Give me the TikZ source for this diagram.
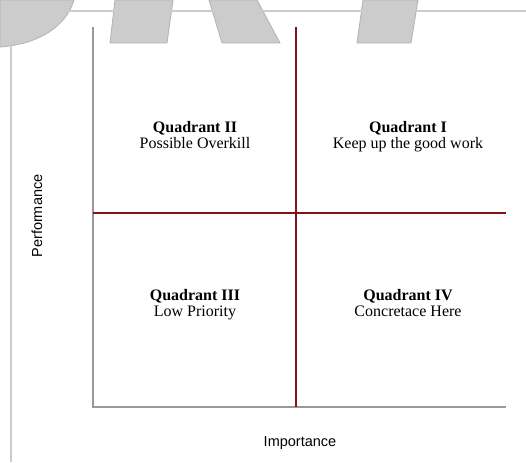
\documentclass[tikz,border=0pt]{standalone}
\usepackage{fontspec}
\setmainfont{Liberation Serif}
\setsansfont{Liberation Sans}
\begin{document}
\begin{tikzpicture}[x=1pt,y=-1pt,
  watermark/.style={fill=black!20,draw=black!30,line width=0.8pt},
  frameline/.style={draw=black!20,line width=1.4pt},
  axisline/.style={draw=black!40,line width=1.4pt},
  splitline/.style={draw={rgb,255:red,130;green,20;blue,24},line width=1.4pt},
  quadlabel/.style={align=center,anchor=north,inner sep=0pt,font=\fontsize{16}{16.5}\selectfont},
  axislabel/.style={inner sep=0pt,font=\sffamily\fontsize{14.5}{16}\selectfont}]
  \useasboundingbox (0,0) rectangle (526,462);
  \fill[white] (0,0) rectangle (526,462);

  % faded letter shapes along the top edge
  \path[watermark] (0,0) -- (74,0) .. controls (66,26) and (40,44) .. (0,47) -- cycle;
  \path[watermark] (115,0) -- (173,0) -- (167,43) -- (110,43) -- cycle;
  \path[watermark] (209,0) -- (257,0) -- (280,43) -- (222,43) -- cycle;
  \path[watermark] (363,0) -- (418,0) -- (411,43) -- (357,43) -- cycle;

  % page frame
  \coordinate (fa) at (11,462);
  \coordinate (fb) at (11,11);
  \coordinate (fc) at (526,11);
  \draw[frameline] (fa) -- (fb) -- (fc);

  % axes
  \coordinate (top) at (93,27);
  \coordinate (origin) at (93,407);
  \coordinate (right) at (506,407);
  \draw[axisline] (top) -- (origin) -- (right);

  % quadrant dividers
  \coordinate (vtop) at (296,27);
  \coordinate (vbot) at (296,407);
  \coordinate (hleft) at (93,213);
  \coordinate (hright) at (506,213);
  \draw[splitline] (vtop) -- (vbot);
  \draw[splitline] (hleft) -- (hright);

  % quadrant captions
  \node[quadlabel] (q2) at (195,121) {\textbf{Quadrant II}\\Possible Overkill};
  \node[quadlabel] (q1) at (408,121) {\textbf{Quadrant I}\\Keep up the good work};
  \node[quadlabel] (q3) at (195,289) {\textbf{Quadrant III}\\Low Priority};
  \node[quadlabel] (q4) at (408,289) {\textbf{Quadrant IV}\\Concretace Here};

  % axis titles
  \node[axislabel] (xlab) at (300,443) {Importance};
  \node[axislabel,rotate=90] (ylab) at (37,216) {Performance};
\end{tikzpicture}
\end{document}
